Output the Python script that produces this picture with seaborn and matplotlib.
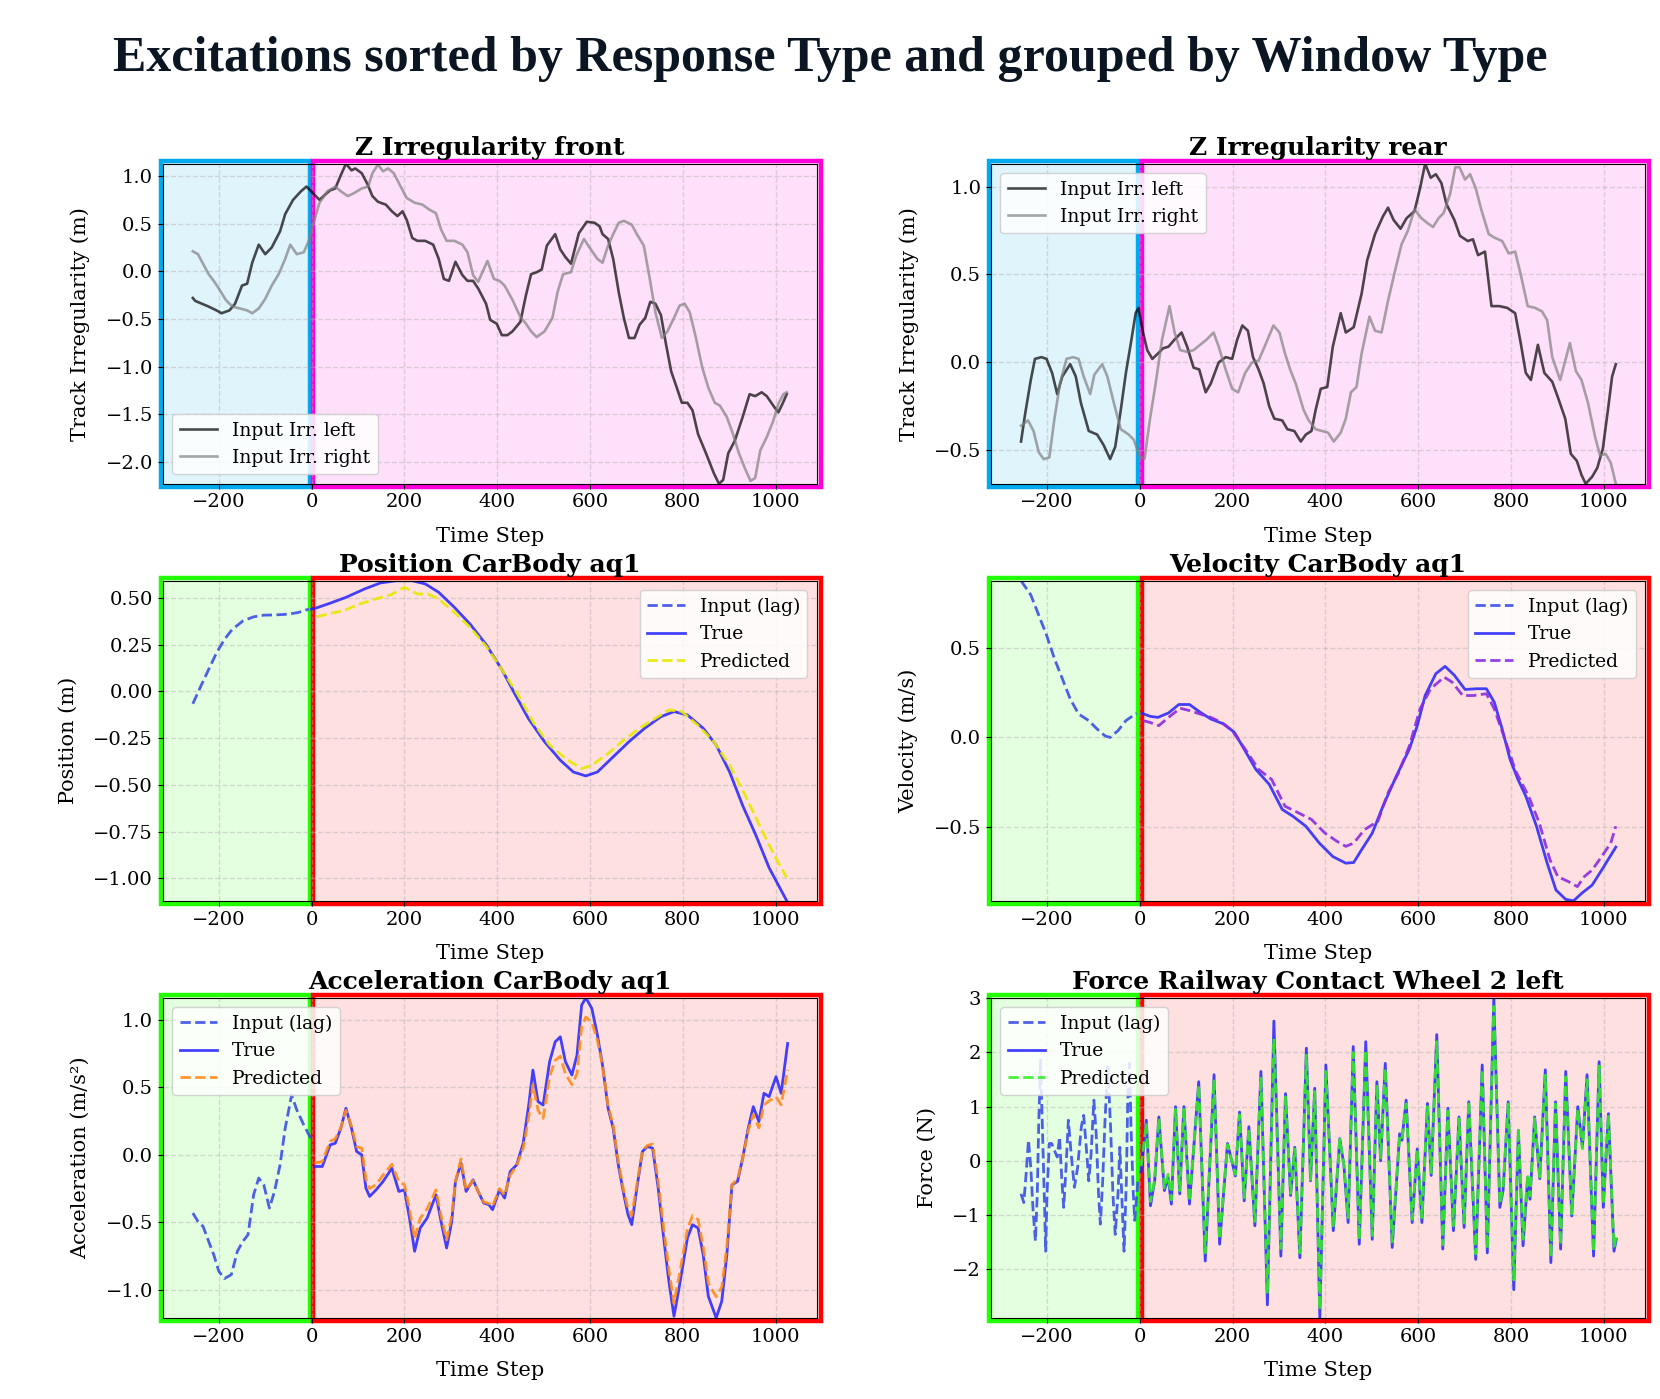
import matplotlib
matplotlib.use("Agg")
import matplotlib.pyplot as plt
import matplotlib.transforms as mtransforms
from matplotlib.patches import Rectangle
from matplotlib.colors import to_rgba
from matplotlib.ticker import MultipleLocator
import seaborn as sns

# ---- data ----
# Z irregularity front
front_left_x = [-256,-251,-222,-205,-194,-177,-165,-150,-139,-128,-114,-100,-86,-68,-57,-40,-23,-11,9,17,28,40,51,63,74,86,94,108,120,131,143,160,173,185,196,205,217,228,245,262,274,285,296,310,325,336,348,359,376,385,399,410,422,433,450,462,473,485,496,507,525,536,547,559,576,593,610,621,627,639,650,662,673,684,696,707,719,730,741,753,764,775,787,798,810,821,833,850,867,878,887,898,912,929,944,956,970,981,998,1006,1015,1024]
front_left_y = [-0.28,-0.31,-0.37,-0.41,-0.44,-0.41,-0.34,-0.15,-0.13,0.09,0.28,0.18,0.25,0.42,0.60,0.75,0.84,0.89,0.79,0.75,0.80,0.85,0.87,1.01,1.13,1.06,1.08,1.03,0.92,0.79,0.73,0.70,0.63,0.58,0.63,0.54,0.35,0.32,0.32,0.28,0.13,-0.08,-0.10,0.10,-0.04,-0.10,-0.10,-0.18,-0.34,-0.51,-0.55,-0.67,-0.67,-0.63,-0.53,-0.25,-0.03,-0.01,0.02,0.27,0.39,0.23,0.15,0.08,0.40,0.52,0.51,0.47,0.39,0.34,0.13,-0.22,-0.49,-0.70,-0.70,-0.56,-0.49,-0.32,-0.34,-0.46,-0.77,-1.05,-1.22,-1.38,-1.38,-1.46,-1.71,-1.91,-2.12,-2.23,-2.19,-1.91,-1.78,-1.53,-1.29,-1.31,-1.27,-1.31,-1.43,-1.48,-1.39,-1.29]
front_right_x = [-256,-245,-234,-222,-211,-200,-185,-171,-154,-139,-128,-114,-100,-86,-71,-57,-46,-32,-17,-6,6,17,34,51,63,78,91,108,122,131,143,154,165,177,192,205,222,239,253,268,279,291,308,325,336,348,359,379,393,405,416,433,450,462,473,485,502,519,530,542,559,570,587,599,616,627,639,650,662,673,690,701,716,730,741,755,767,781,793,804,815,827,842,855,869,880,895,907,921,935,946,956,967,981,995,1006,1017,1024]
front_right_y = [0.21,0.18,0.08,-0.03,-0.10,-0.18,-0.30,-0.37,-0.39,-0.41,-0.44,-0.39,-0.29,-0.15,-0.03,0.13,0.28,0.18,0.20,0.32,0.54,0.72,0.84,0.89,0.84,0.79,0.82,0.87,0.89,1.03,1.12,1.05,1.08,1.03,0.89,0.77,0.72,0.70,0.65,0.61,0.44,0.32,0.32,0.28,0.20,-0.04,-0.11,0.11,-0.08,-0.10,-0.15,-0.30,-0.48,-0.55,-0.63,-0.69,-0.63,-0.49,-0.22,-0.03,-0.01,0.16,0.34,0.25,0.13,0.09,0.27,0.39,0.51,0.53,0.49,0.39,0.27,-0.11,-0.43,-0.70,-0.63,-0.49,-0.36,-0.34,-0.43,-0.67,-1.01,-1.22,-1.38,-1.41,-1.53,-1.69,-1.91,-2.08,-2.20,-2.17,-1.88,-1.74,-1.57,-1.39,-1.29,-1.27]

# Z irregularity rear
rear_left_x = [-256,-247,-235,-226,-212,-201,-189,-178,-167,-150,-138,-127,-110,-92,-78,-64,-53,-41,-30,-18,-9,-3,7,16,27,39,50,62,75,90,102,116,128,142,153,170,185,199,210,221,233,244,256,267,279,290,307,318,333,347,358,370,379,390,404,416,433,444,461,478,490,507,524,535,547,562,575,592,604,615,627,638,650,661,678,690,707,718,729,744,758,775,792,809,821,832,843,858,872,889,900,917,929,942,952,961,975,986,998,1009,1018,1026]
rear_left_y = [-0.45,-0.29,-0.10,0.02,0.03,0.02,-0.06,-0.18,-0.08,-0.01,-0.08,-0.23,-0.39,-0.41,-0.47,-0.55,-0.48,-0.27,-0.06,0.13,0.28,0.31,0.17,0.07,0.02,0.05,0.08,0.09,0.13,0.17,0.09,-0.03,-0.04,-0.17,-0.12,0.00,0.03,0.02,0.13,0.21,0.18,0.03,-0.04,-0.12,-0.25,-0.32,-0.33,-0.38,-0.39,-0.45,-0.41,-0.39,-0.27,-0.15,-0.14,0.09,0.28,0.17,0.20,0.39,0.58,0.73,0.83,0.88,0.81,0.76,0.82,0.86,0.99,1.13,1.05,1.07,1.02,0.90,0.81,0.72,0.69,0.70,0.61,0.63,0.32,0.32,0.31,0.28,0.11,-0.06,-0.10,0.10,-0.06,-0.11,-0.19,-0.32,-0.52,-0.56,-0.64,-0.69,-0.65,-0.60,-0.49,-0.27,-0.08,-0.01]
rear_right_x = [-256,-241,-229,-218,-207,-195,-184,-172,-158,-144,-132,-121,-107,-98,-81,-70,-55,-41,-24,-13,-1,10,22,33,48,64,75,87,102,116,130,144,159,170,185,199,212,227,242,256,269,288,301,313,324,336,353,364,379,393,406,418,433,444,455,467,478,495,507,521,535,550,564,578,592,607,621,632,644,655,669,680,689,701,712,724,737,752,764,781,795,809,821,836,852,867,878,889,906,918,927,940,952,966,981,992,1004,1015,1026]
rear_right_y = [-0.36,-0.33,-0.39,-0.51,-0.55,-0.54,-0.32,-0.12,0.02,0.03,0.02,-0.08,-0.18,-0.07,-0.01,-0.08,-0.24,-0.38,-0.41,-0.44,-0.53,-0.55,-0.32,-0.14,0.13,0.32,0.17,0.07,0.06,0.07,0.10,0.13,0.17,0.09,-0.04,-0.15,-0.17,-0.06,0.00,0.01,0.09,0.21,0.17,0.05,-0.04,-0.12,-0.27,-0.33,-0.38,-0.39,-0.40,-0.45,-0.40,-0.32,-0.17,-0.14,0.05,0.26,0.18,0.17,0.35,0.52,0.67,0.75,0.87,0.82,0.79,0.77,0.82,0.85,0.96,1.11,1.11,1.04,1.07,0.99,0.86,0.73,0.71,0.69,0.62,0.63,0.50,0.32,0.31,0.29,0.24,0.03,-0.10,0.02,0.11,-0.05,-0.10,-0.23,-0.42,-0.53,-0.52,-0.57,-0.69]

# Position CarBody aq1
pos_in_x = [-256,-239,-222,-205,-188,-171,-148,-125,-103,-80,-51,-29,-6]
pos_in_y = [-0.066,0.027,0.117,0.206,0.278,0.332,0.377,0.399,0.408,0.409,0.413,0.422,0.44]
pos_true_x = [0,6,40,74,114,148,182,217,245,274,308,342,376,410,439,467,502,536,564,591,616,650,684,718,753,781,810,844,872,901,929,958,986,1024]
pos_true_y = [0.44,0.443,0.472,0.503,0.548,0.580,0.592,0.592,0.575,0.53,0.449,0.359,0.251,0.117,-0.018,-0.144,-0.269,-0.368,-0.431,-0.452,-0.431,-0.35,-0.269,-0.197,-0.135,-0.108,-0.126,-0.197,-0.287,-0.431,-0.61,-0.772,-0.943,-1.12]
pos_pred_x = [11,40,68,103,137,171,200,228,251,274,308,342,376,410,445,479,513,547,582,604,639,673,707,741,770,798,832,867,901,935,969,998,1024]
pos_pred_y = [0.399,0.417,0.431,0.467,0.494,0.517,0.557,0.521,0.521,0.494,0.422,0.341,0.242,0.117,-0.018,-0.171,-0.287,-0.359,-0.413,-0.395,-0.332,-0.26,-0.197,-0.144,-0.099,-0.108,-0.18,-0.269,-0.395,-0.557,-0.736,-0.88,-0.996]

# Velocity CarBody aq1
vel_in_x = [-256,-235,-218,-201,-184,-167,-150,-132,-110,-92,-75,-64,-47,-30,-7]
vel_in_y = [0.873,0.794,0.682,0.569,0.438,0.326,0.213,0.129,0.092,0.045,0.007,-0.002,0.036,0.092,0.133]
vel_true_x = [5,22,39,62,84,107,130,153,181,204,227,250,279,307,330,358,387,416,444,461,478,501,524,553,581,598,615,638,658,678,701,726,747,764,781,798,815,832,855,878,897,918,935,952,975,998,1026]
vel_true_y = [0.133,0.116,0.11,0.135,0.182,0.182,0.139,0.101,0.073,0.026,-0.077,-0.18,-0.264,-0.404,-0.442,-0.498,-0.592,-0.667,-0.704,-0.70,-0.629,-0.536,-0.386,-0.217,-0.067,0.064,0.232,0.354,0.395,0.345,0.266,0.27,0.27,0.195,0.045,-0.124,-0.236,-0.33,-0.498,-0.704,-0.854,-0.906,-0.914,-0.873,-0.826,-0.732,-0.614]
vel_pred_x = [7,22,41,62,87,107,130,153,176,199,227,256,284,313,342,370,399,425,444,461,484,513,535,558,581,604,627,656,673,696,719,747,764,787,810,838,861,884,901,924,943,958,975,998,1015,1026]
vel_pred_y = [0.092,0.082,0.064,0.11,0.161,0.148,0.129,0.11,0.082,0.036,-0.067,-0.18,-0.236,-0.386,-0.423,-0.46,-0.536,-0.582,-0.61,-0.592,-0.517,-0.47,-0.311,-0.198,-0.049,0.157,0.27,0.335,0.307,0.232,0.232,0.242,0.157,-0.011,-0.189,-0.33,-0.479,-0.685,-0.779,-0.807,-0.835,-0.779,-0.742,-0.657,-0.592,-0.498]

# Acceleration CarBody aq1
acc_in_x = [-256,-245,-234,-222,-211,-200,-188,-173,-160,-148,-137,-125,-114,-103,-91,-80,-68,-57,-43,-32,-17,-2]
acc_in_y = [-0.431,-0.493,-0.53,-0.64,-0.739,-0.862,-0.916,-0.887,-0.714,-0.64,-0.591,-0.296,-0.172,-0.222,-0.394,-0.271,-0.074,0.197,0.443,0.333,0.222,0.123]
acc_x = [6,23,40,51,63,74,86,97,108,117,125,139,154,173,188,200,211,222,234,249,268,279,291,302,310,322,333,348,359,371,382,390,405,416,428,442,456,468,477,488,499,513,525,536,547,561,572,582,591,604,616,627,639,650,661,673,682,690,701,713,724,735,747,758,770,781,792,810,821,833,844,855,872,884,895,906,918,929,941,952,964,975,986,1001,1012,1026]
acc_true = [-0.086,-0.086,0.074,0.086,0.197,0.345,0.197,0.025,0.0,-0.246,-0.308,-0.259,-0.197,-0.099,-0.271,-0.259,-0.468,-0.714,-0.542,-0.468,-0.296,-0.493,-0.69,-0.493,-0.197,-0.062,-0.271,-0.185,-0.271,-0.357,-0.369,-0.406,-0.259,-0.32,-0.123,-0.074,0.086,0.369,0.628,0.394,0.369,0.69,0.837,0.874,0.69,0.591,0.739,1.108,1.163,1.084,0.887,0.665,0.345,0.197,-0.074,-0.296,-0.443,-0.517,-0.246,0.025,0.062,0.049,-0.246,-0.591,-0.936,-1.195,-0.985,-0.616,-0.517,-0.542,-0.739,-1.047,-1.207,-1.084,-0.739,-0.222,-0.197,-0.025,0.197,0.357,0.246,0.456,0.431,0.579,0.456,0.825]
acc_pred = [-0.06,-0.05,0.10,0.12,0.20,0.33,0.21,0.06,0.05,-0.18,-0.25,-0.22,-0.15,-0.07,-0.20,-0.22,-0.40,-0.62,-0.47,-0.40,-0.26,-0.45,-0.63,-0.45,-0.20,-0.03,-0.26,-0.19,-0.27,-0.35,-0.36,-0.38,-0.25,-0.30,-0.15,-0.08,0.05,0.28,0.52,0.33,0.27,0.58,0.70,0.73,0.60,0.52,0.60,0.95,1.02,0.98,0.85,0.66,0.36,0.22,-0.05,-0.27,-0.40,-0.45,-0.22,0.03,0.07,0.08,-0.20,-0.52,-0.85,-1.10,-0.90,-0.55,-0.45,-0.48,-0.68,-0.95,-1.05,-0.98,-0.68,-0.22,-0.18,-0.03,0.18,0.30,0.20,0.37,0.40,0.43,0.37,0.63]

# Force Railway Contact Wheel 2 left
force_in_x = [-256,-250,-245,-240,-235,-230,-225,-221,-218,-214,-209,-205,-203,-200,-195,-190,-184,-178,-173,-168,-164,-159,-154,-148,-141,-134,-126,-121,-116,-110,-105,-99,-94,-89,-85,-80,-75,-69,-63,-58,-53,-47,-43,-39,-34,-29,-26,-22,-19,-14,-11,-4]
force_in_y = [-0.61,-0.77,-0.24,0.38,-0.12,-0.92,-1.48,-0.61,0.63,1.86,0.32,-0.92,-1.67,-0.61,0.32,0.32,0.19,0.07,0.44,-0.37,-0.86,-0.12,0.75,0.13,-0.49,-0.12,0.63,0.84,0.32,-0.37,0.13,1.12,0.50,-0.61,-1.17,-0.37,0.75,1.74,0.63,-0.61,-1.36,-0.61,0.25,-0.61,-1.67,-0.37,1.12,1.80,0.63,-0.61,-1.1,-0.37]
force_x = [3,14,23,32,41,53,61,68,77,86,95,107,127,141,160,172,189,206,215,225,235,248,261,275,289,304,314,325,334,345,359,368,377,388,401,417,431,440,449,460,473,487,501,511,519,529,544,560,565,574,587,598,608,620,628,640,653,664,676,688,699,709,724,738,749,763,776,783,794,806,816,826,836,841,851,862,874,886,896,907,918,931,944,954,964,978,990,999,1010,1022,1027]
force_true = [-0.2,0.75,-0.83,-0.37,0.81,-0.55,-0.30,-0.80,1.0,-0.61,1.0,-0.80,1.46,-1.85,1.59,-1.54,0.32,-0.28,0.90,-0.74,0.63,-1.20,1.65,-2.66,2.58,-1.76,1.24,-0.64,0.25,-1.79,2.08,-0.37,1.34,-2.90,1.77,-1.29,0.41,-0.09,-1.14,2.11,-1.54,2.20,-1.45,1.46,0.0,1.80,-1.60,0.50,0.38,1.12,-1.14,0.22,-1.14,1.06,-0.27,2.33,-1.63,0.97,-1.29,0.81,-1.23,1.09,-1.82,1.77,-1.70,3.01,-0.86,-0.55,1.09,-2.38,0.56,-1.57,-0.30,-0.71,0.81,-0.33,1.68,-1.88,1.09,-1.63,1.65,-1.02,1.0,0.25,1.59,-1.76,1.83,-0.86,0.87,-1.67,-1.45]
force_pred = [-0.1,0.70,-0.75,-0.35,0.78,-0.50,-0.25,-0.72,0.95,-0.55,0.95,-0.75,1.40,-1.70,1.50,-1.45,0.30,-0.25,0.85,-0.68,0.60,-1.12,1.55,-2.45,2.25,-1.62,1.18,-0.60,0.22,-1.70,1.95,-0.35,1.28,-2.75,1.65,-1.22,0.40,-0.08,-1.05,2.00,-1.45,2.05,-1.38,1.40,0.05,1.70,-1.50,0.45,0.40,1.05,-1.08,0.20,-1.05,1.00,-0.22,2.20,-1.55,0.92,-1.20,0.78,-1.15,1.10,-1.72,1.68,-1.62,2.85,-0.80,-0.50,1.05,-2.20,0.60,-1.45,-0.25,-0.65,0.78,-0.30,1.58,-1.78,1.05,-1.55,1.55,-0.98,0.95,0.22,1.50,-1.68,1.75,-0.80,0.85,-1.60,-1.40]

plt.rcParams["font.family"] = ["DejaVu Serif"]

fig, axes = plt.subplots(3, 2, figsize=(16.6, 13.99), dpi=100)
fig.subplots_adjust(left=0.098, right=0.991, bottom=0.058, top=0.883,
                    wspace=0.266, hspace=0.303)

XLIM = (-321, 1089)


def frame(ax, c_lag, c_win):
    # coloured window boxes drawn just outside the axes
    tr = mtransforms.blended_transform_factory(ax.transData, ax.transAxes)
    for x0, x1, c in [(XLIM[0] - 3, -4, c_lag), (4, XLIM[1] + 8, c_win)]:
        ax.add_patch(Rectangle((x0, -0.009), x1 - x0, 1.018, transform=tr,
                               facecolor=to_rgba(c, 0.12), edgecolor=c,
                               linewidth=3.2, clip_on=False, zorder=0.5))


def finish(ax, title, ylabel, ys, legend_loc, ystep):
    ax.set_xlim(*XLIM)
    ax.set_ylim(min(min(v) for v in ys), max(max(v) for v in ys))
    ax.yaxis.set_major_locator(MultipleLocator(ystep))
    ax.set_title(title, fontsize=18, fontweight="bold")
    ax.set_xlabel("Time Step", fontsize=15, labelpad=11)
    ax.set_ylabel(ylabel, fontsize=15, labelpad=11)
    ax.tick_params(labelsize=14)
    ax.grid(True, linestyle="--", color="#b0b0b0", alpha=0.45, linewidth=1)
    ax.legend(loc=legend_loc, fontsize=13.5, framealpha=0.85)


# irregularity panels
irr = [
    (axes[0, 0], "Z Irregularity front", front_left_x, front_left_y,
     front_right_x, front_right_y, "lower left"),
    (axes[0, 1], "Z Irregularity rear", rear_left_x, rear_left_y,
     rear_right_x, rear_right_y, "upper left"),
]
for ax, title, lx, ly, rx, ry, loc in irr:
    frame(ax, "#00aaee", "#ff00dd")
    sns.lineplot(x=lx, y=ly, ax=ax, color="black", alpha=0.7, linewidth=1.9,
                 label="Input Irr. left", sort=False)
    sns.lineplot(x=rx, y=ry, ax=ax, color="gray", alpha=0.7, linewidth=1.9,
                 label="Input Irr. right", sort=False)
    finish(ax, title, "Track Irregularity (m)", [ly, ry], loc, 0.5)

# response panels
resp = [
    (axes[1, 0], "Position CarBody aq1", "Position (m)", pos_in_x, pos_in_y,
     pos_true_x, pos_true_y, pos_pred_x, pos_pred_y, "#e8e800", "upper right", 0.25),
    (axes[1, 1], "Velocity CarBody aq1", "Velocity (m/s)", vel_in_x, vel_in_y,
     vel_true_x, vel_true_y, vel_pred_x, vel_pred_y, "#8a2be2", "upper right", 0.5),
    (axes[2, 0], "Acceleration CarBody aq1", "Acceleration (m/s²)", acc_in_x, acc_in_y,
     acc_x, acc_true, acc_x, acc_pred, "#ff8c1a", "upper left", 0.5),
    (axes[2, 1], "Force Railway Contact Wheel 2 left", "Force (N)", force_in_x, force_in_y,
     force_x, force_true, force_x, force_pred, "#33ee22", "upper left", 1.0),
]
for ax, title, ylab, ix, iy, tx, ty, px, py, pc, loc, step in resp:
    frame(ax, "#22ff00", "#ff0000")
    sns.lineplot(x=ix, y=iy, ax=ax, color="#3a4fe8", alpha=0.9, linewidth=2.0,
                 linestyle="--", label="Input (lag)", sort=False)
    sns.lineplot(x=tx, y=ty, ax=ax, color="#2222ff", alpha=0.85, linewidth=2.0,
                 label="True", sort=False)
    sns.lineplot(x=px, y=py, ax=ax, color=pc, alpha=0.9, linewidth=2.0,
                 linestyle="--", label="Predicted", sort=False)
    finish(ax, title, ylab, [iy, ty, py], loc, step)

fig.suptitle("Excitations sorted by Response Type and grouped by Window Type",
             fontsize=36, fontweight="bold",
             fontfamily=["Liberation Serif", "DejaVu Serif"],
             color="#0b1622", y=0.958, va="center")

fig.savefig("out.png", dpi=100)
